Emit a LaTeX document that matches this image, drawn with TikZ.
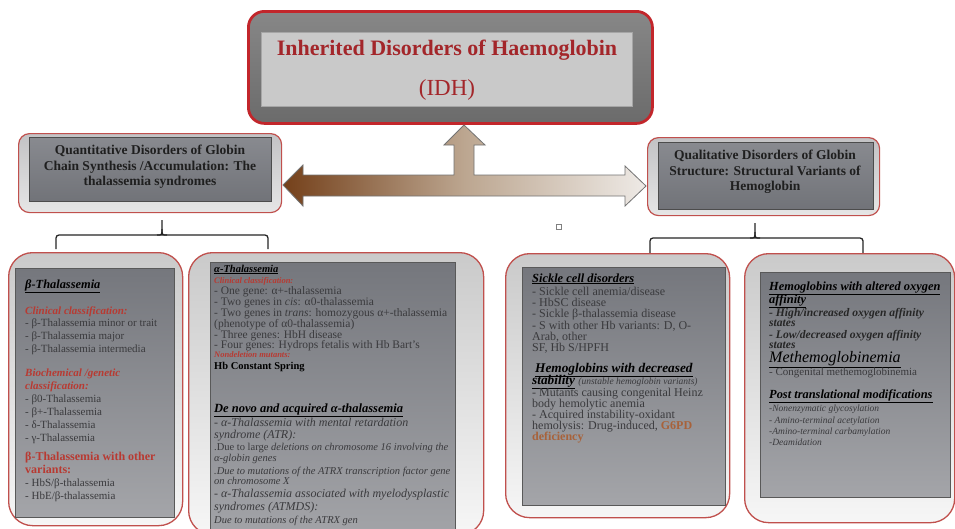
\documentclass[tikz,border=0pt]{standalone}
\usepackage{fontspec}
\setmainfont{Liberation Serif}
\usetikzlibrary{calc}
\definecolor{boxred}{HTML}{C0504D}
\definecolor{titlered}{HTML}{A3262A}
\definecolor{titleborder}{HTML}{C2262B}
\definecolor{txtred}{HTML}{B83A32}
\definecolor{bodygray}{HTML}{3A3A3D}
\definecolor{innertop}{HTML}{75777D}
\definecolor{innerbot}{HTML}{A4A5A9}
\definecolor{outertop}{HTML}{CACACA}
\definecolor{outerbot}{HTML}{F6F6F6}
\definecolor{brownD}{HTML}{74401A}
\definecolor{brownM}{HTML}{BCA690}
\definecolor{brownL}{HTML}{EEEAE6}
\definecolor{gsixpd}{HTML}{A8623A}
\definecolor{hdtop}{HTML}{C2C2C4}
\definecolor{hdbot}{HTML}{E6E6E6}
\definecolor{hdin}{HTML}{7B7D83}
\newcommand\fHd{\fontsize{12.4}{14}\selectfont\bfseries\itshape}
\newcommand\fBody{\fontsize{11}{13}\selectfont}
\newcommand\fAl{\fontsize{11.5}{13}\selectfont}
\newcommand\fSc{\fontsize{12}{13}\selectfont}
\newcommand\fRed{\fontsize{11}{13}\selectfont\bfseries\itshape\color{txtred}}
\newcommand\fSm{\fontsize{8.5}{10}\selectfont\bfseries\itshape\color{txtred}}
\newcommand\fIt{\fontsize{12}{13}\selectfont\itshape}
\newcommand\fTiny{\fontsize{10.5}{12}\selectfont\itshape}
\newcommand\fHi{\fontsize{11.6}{13}\selectfont\bfseries\itshape}
\newcommand\fPt{\fontsize{9.5}{11}\selectfont\itshape}
\newcounter{lnc}
\newcommand\Ln[4][]{\stepcounter{lnc}\edef\lnname{ln\arabic{lnc}}\node[txt,#1] (\lnname) at (#2,#3) {#4};}
\tikzset{
  txt/.style={anchor=base west, inner sep=0pt, text=bodygray, font=\fBody},
  boxouter/.style={draw=boxred, line width=1.3pt, rounded corners=24pt, top color=outertop, bottom color=outerbot, anchor=north west, inner sep=0pt},
  boxinner/.style={draw=black!65, line width=0.5pt, top color=innertop, bottom color=innerbot, anchor=north west, inner sep=0pt},
  hdouter/.style={draw=boxred, line width=1.2pt, rounded corners=11pt, top color=hdtop, bottom color=hdbot, anchor=north west, inner sep=0pt},
  hdinner/.style={draw=black!70, line width=0.6pt, top color=hdin!90!white, bottom color=hdin!92!black, anchor=north west, inner sep=0pt},
  hdtxt/.style={align=center, text=black!88, font=\fontsize{13.5}{15.5}\selectfont\bfseries, inner sep=0pt},
  brace/.style={draw=black!85, line width=1.3pt, rounded corners=3pt},
  blockarrow/.style={draw=black!55, line width=0.8pt, left color=brownD, right color=brownL, middle color=brownM}
}
\begin{document}
\begin{tikzpicture}[x=1pt,y=-1pt]
\useasboundingbox (0,0) rectangle (955,528);
\fill[white] (0,0) rectangle (955,528);

% title
\node[draw=titleborder, line width=2.8pt, rounded corners=16pt, top color=black!47, bottom color=black!58, anchor=north west, inner sep=0pt, minimum width=404pt, minimum height=112pt] (title) at (247,10) {};
\node[draw=black!35, line width=0.5pt, fill=black!21, anchor=north west, inner sep=0pt, minimum width=371pt, minimum height=74pt] (titlein) at (261,32) {};
\node[text=titlered, font=\fontsize{22}{26}\selectfont\bfseries, inner sep=0pt] (t1) at (447,50) {Inherited Disorders of Haemoglobin};
\node[text=titlered, font=\fontsize{23}{26}\selectfont, inner sep=0pt] (t2) at (447,90) {(IDH)};

% headers
\node[hdouter, minimum width=263pt, minimum height=79pt] (lhead) at (18,133) {};
\node[hdinner, minimum width=242pt, minimum height=64pt] (lheadin) at (29,137) {};
\node[hdtxt] (lht) at (150,167) {Quantitative Disorders of Globin\\Chain Synthesis /Accumulation: The\\thalassemia syndromes};
\node[hdouter, minimum width=232pt, minimum height=78pt] (rhead) at (647,137) {};
\node[hdinner, minimum width=215pt, minimum height=67pt] (rheadin) at (658,142) {};
\node[hdtxt] (rht) at (765,172) {Qualitative Disorders of Globin\\Structure: Structural Variants of\\Hemoglobin};

% block arrow
\coordinate (ltip) at (283,185);
\coordinate (rtip) at (646,186);
\coordinate (utip) at (464,125);
\path[blockarrow] (ltip) -- (303,165) -- (303,175) -- (454,175) -- (454,145) -- (444,145) -- (utip) -- (485,145) -- (474,145) -- (474,175) -- (625,175) -- (625,166) -- (rtip) -- (625,206) -- (625,196) -- (303,196) -- (303,206) -- cycle;

% small square
\node[draw=black!50, fill=white, line width=0.6pt, minimum size=4.5pt, inner sep=0pt] (sq) at (559,227) {};

% braces
\coordinate (lbL) at (56,249); \coordinate (lbR) at (268,249);
\coordinate (lbM) at (162,235); \coordinate (lbT) at (162,220);
\draw[brace] (lbL) |- (lbM) -| (lbR);
\draw[brace, rounded corners=0pt] (157,235) .. controls (162,235) .. (162,229) -- (lbT);
\draw[brace, rounded corners=0pt] (167,235) .. controls (162,235) .. (162,229);
\coordinate (rbL) at (650,253); \coordinate (rbR) at (863,253);
\coordinate (rbM) at (755,238); \coordinate (rbT) at (755,223);
\draw[brace] (rbL) |- (rbM) -| (rbR);
\draw[brace, rounded corners=0pt] (750,238) .. controls (755,238) .. (755,232) -- (rbT);
\draw[brace, rounded corners=0pt] (760,238) .. controls (755,238) .. (755,232);

% bottom boxes
\node[boxouter, minimum width=174pt, minimum height=273pt] (bbox) at (8,252) {};
\node[boxinner, minimum width=159pt, minimum height=249pt] (bboxin) at (15,268) {};
\node[boxouter, minimum width=295pt, minimum height=282pt] (abox) at (188,252) {};
\node[boxinner, minimum width=245pt, minimum height=280pt] (aboxin) at (210,262) {};
\node[boxouter, minimum width=224pt, minimum height=264pt] (sbox) at (505,253) {};
\node[boxinner, minimum width=203pt, minimum height=238pt] (sboxin) at (522,267) {};
\node[boxouter, minimum width=210pt, minimum height=269pt] (ybox) at (744,253) {};
\node[boxinner, minimum width=190pt, minimum height=225pt] (yboxin) at (760,272) {};

% beta box text
\Ln[text=black]{25}{288}{\fHd\underline{β-Thalassemia}}
\Ln{25}{314}{\fRed Clinical classification:}
\Ln{25}{326}{- β-Thalassemia minor or trait}
\Ln{25}{339}{- β-Thalassemia major}
\Ln{25}{352}{- β-Thalassemia intermedia}
\Ln{25}{376}{\fRed Biochemical /genetic}
\Ln{25}{389}{\fRed classification:}
\Ln{25}{402}{- β0-Thalassemia}
\Ln{25}{415}{- β+-Thalassemia}
\Ln{25}{428}{- δ-Thalassemia}
\Ln{25}{441}{- γ-Thalassemia}
\Ln{25}{460}{\fontsize{12}{13}\selectfont\bfseries\color{txtred}β-Thalassemia with other}
\Ln{25}{473}{\fontsize{12}{13}\selectfont\bfseries\color{txtred}variants:}
\Ln{25}{486}{- HbS/β-thalassemia}
\Ln{25}{499}{- HbE/β-thalassemia}

% alpha box text
\Ln[text=black]{214}{272}{\fontsize{10.5}{12}\selectfont\bfseries\itshape\underline{α-Thalassemia}}
\Ln{214}{283}{\fSm Clinical classification:}
\Ln{214}{294}{\fAl - One gene: α+-thalassemia}
\Ln{214}{305}{\fAl - Two genes in \textit{cis}: α0-thalassemia}
\Ln{214}{316}{\fAl - Two genes in \textit{trans}: homozygous α+-thalassemia}
\Ln{214}{327}{\fAl (phenotype of α0-thalassemia)}
\Ln{214}{338}{\fAl - Three genes: HbH disease}
\Ln{214}{348}{\fAl - Four genes: Hydrops fetalis with Hb Bart's}
\Ln{214}{357.5}{\fSm Nondeletion mutants:}
\Ln[text=black]{214}{369}{\fontsize{10.5}{12}\selectfont\bfseries Hb Constant Spring}
\Ln[text=black]{214}{412}{\fHd\fontsize{12.5}{14}\selectfont\underline{De novo and acquired α-thalassemia}}
\Ln{214}{426}{\fIt - α-Thalassemia with mental retardation}
\Ln{214}{438}{\fIt syndrome (ATR):}
\Ln{214}{450}{\fTiny \upshape .Due to large \itshape deletions on chromosome 16 involving the}
\Ln{214}{461}{\fTiny α-globin genes}
\Ln{214}{474}{\fTiny .Due to mutations of the ATRX transcription factor gene}
\Ln{214}{484}{\fTiny on chromosome X}
\Ln{214}{497}{\fIt - α-Thalassemia associated with myelodysplastic}
\Ln{214}{510}{\fIt syndromes (ATMDS):}
\Ln{214}{523}{\fTiny Due to mutations of the ATRX gen}

% sickle box text
\Ln[text=black]{532}{282}{\fHd\underline{Sickle cell disorders}}
\Ln{532}{295}{\fSc - Sickle cell anemia/disease}
\Ln{532}{306}{\fSc - HbSC disease}
\Ln{532}{317}{\fSc - Sickle β-thalassemia disease}
\Ln{532}{329}{\fSc - S with other Hb variants: D, O-}
\Ln{532}{340}{\fSc Arab, other}
\Ln{532}{351}{\fSc SF, Hb S/HPFH}
\Ln[text=black]{535}{372}{\fontsize{13.3}{15}\selectfont\bfseries\itshape\underline{Hemoglobins with decreased}}
\Ln[text=black]{532}{384}{\fontsize{13.3}{15}\selectfont\bfseries\itshape\underline{stability} {\fontsize{9.5}{10}\selectfont\mdseries\color{bodygray} (unstable hemoglobin variants)}}
\Ln{532}{396}{\fSc - Mutants causing congenital Heinz}
\Ln{532}{407}{\fSc body hemolytic anemia}
\Ln{532}{418}{\fSc - Acquired instability-oxidant}
\Ln{532}{429}{\fSc hemolysis: Drug-induced, {\bfseries\color{gsixpd}G6PD}}
\Ln{532}{440}{\fSc {\bfseries\color{gsixpd}deficiency}}

% right box text
\Ln[text=black]{769}{290}{\fHd\underline{Hemoglobins with altered oxygen}}
\Ln[text=black]{769}{303}{\fHd\underline{affinity}}
\Ln[text=black!85]{769}{316}{\fHi - High/increased oxygen affinity}
\Ln[text=black!85]{769}{326}{\fHi states}
\Ln[text=black!85]{769}{338}{\fHi - Low/decreased oxygen affinity}
\Ln[text=black!85]{769}{348}{\fHi states}
\Ln[text=black]{769}{362}{\fontsize{16}{18}\selectfont\itshape\underline{Methemoglobinemia}}
\Ln{769}{375}{- Congenital methemoglobinemia}
\Ln[text=black]{769}{398}{\fHd\underline{Post translational modifications}}
\Ln{769}{411}{\fPt -Nonenzymatic glycosylation}
\Ln{769}{423}{\fPt - Amino-terminal acetylation}
\Ln{769}{434}{\fPt -Amino-terminal carbamylation}
\Ln{769}{445}{\fPt -Deamidation}
\end{tikzpicture}
\end{document}
